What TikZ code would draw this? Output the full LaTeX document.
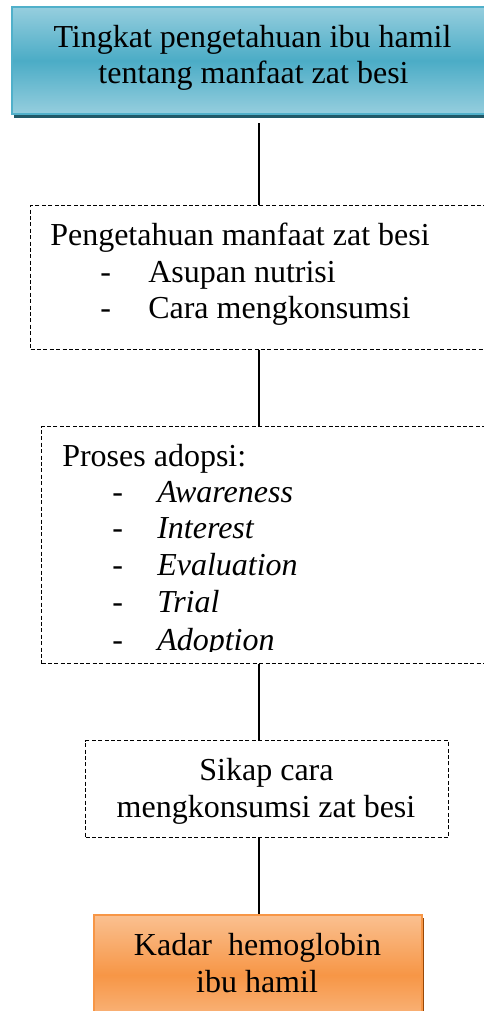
\documentclass[tikz,border=0pt]{standalone}
\usepackage{fontspec}
\setmainfont{Liberation Serif}
\definecolor{bluelite}{RGB}{150,206,222}
\definecolor{bluemid}{RGB}{75,172,198}
\definecolor{blueedge}{RGB}{80,176,202}
\definecolor{blueshadow}{RGB}{33,89,104}
\definecolor{orlite}{RGB}{250,192,144}
\definecolor{ormid}{RGB}{247,150,70}
\definecolor{oredge}{RGB}{247,150,70}
\definecolor{orshadow}{RGB}{152,72,7}
\begin{document}
\begin{tikzpicture}[x=0.75pt,y=-0.75pt,
  txt/.style={inner sep=0pt,font=\fontsize{24pt}{26.5pt}\selectfont},
  dbox/.style={draw=black,line width=0.8pt,dash pattern=on 3pt off 1.8pt,inner sep=0pt},
  conn/.style={draw=black,line width=1.2pt}]
\useasboundingbox (0,0) rectangle (483,1011);
% top box
\fill[blueshadow] (14,9) rectangle (498,118);
\node[draw=blueedge,line width=1.6pt,top color=bluelite,bottom color=bluelite,middle color=bluemid,
  minimum width=482*0.75pt,minimum height=107*0.75pt,inner sep=0pt,anchor=north west] (b1) at (11,6) {};
\node[txt,anchor=base] (t1a) at (252.5,47) {Tingkat pengetahuan ibu hamil};
\node[txt,anchor=base] (t1b) at (253.5,83) {tentang manfaat zat besi};
% box 2
\node[dbox,minimum width=470*0.75pt,minimum height=144*0.75pt,anchor=north west] (b2) at (30,205) {};
\node[txt,anchor=base west] (t2a) at (50,245) {Pengetahuan manfaat zat besi};
\node[txt,anchor=base west] (d2a) at (100,282) {-};
\node[txt,anchor=base west] (t2b) at (148,282) {Asupan nutrisi};
\node[txt,anchor=base west] (d2b) at (100,318) {-};
\node[txt,anchor=base west] (t2c) at (148,318) {Cara mengkonsumsi};
% box 3
\node[dbox,minimum width=459*0.75pt,minimum height=237*0.75pt,anchor=north west] (b3) at (41,426) {};
\node[txt,anchor=base west] (t3a) at (62,466) {Proses adopsi:};
\node[txt,anchor=base west] (d3a) at (112,502) {-};
\node[txt,anchor=base west] (t3b) at (157,502) {\itshape Awareness};
\node[txt,anchor=base west] (d3b) at (112,538) {-};
\node[txt,anchor=base west] (t3c) at (157,538) {\itshape Interest};
\node[txt,anchor=base west] (d3c) at (112,575) {-};
\node[txt,anchor=base west] (t3d) at (157,575) {\itshape Evaluation};
\node[txt,anchor=base west] (d3d) at (112,612) {-};
\node[txt,anchor=base west] (t3e) at (157,612) {\itshape Trial};
\node[txt,anchor=base west] (d3e) at (112,650) {-};
\begin{scope}
\clip (0,426) rectangle (483,651.5);
\node[txt,anchor=base west] (t3f) at (157,650) {\itshape Adoption};
\end{scope}
% box 4
\node[dbox,minimum width=363*0.75pt,minimum height=97*0.75pt,anchor=north west] (b4) at (85,740) {};
\node[txt,anchor=base] (t4a) at (266.5,780) {Sikap cara};
\node[txt,anchor=base] (t4b) at (266,817) {mengkonsumsi zat besi};
% box 5
\fill[orshadow] (95,918) rectangle (424,1040);
\node[draw=oredge,line width=1.6pt,top color=orlite,bottom color=orlite,middle color=ormid,
  minimum width=328*0.75pt,minimum height=120*0.75pt,inner sep=0pt,anchor=north west] (b5) at (93,914) {};
\node[txt,anchor=base] (t5a) at (257.5,955) {Kadar\ \ hemoglobin};
\node[txt,anchor=base] (t5b) at (257,992) {ibu hamil};
% connectors
\coordinate (lx) at (259,0);
\coordinate (c1) at (259,123);
\draw[conn] (c1) -- (lx |- b2.north);
\draw[conn] (lx |- b2.south) -- (lx |- b3.north);
\draw[conn] (lx |- b3.south) -- (lx |- b4.north);
\draw[conn] (lx |- b4.south) -- (lx |- b5.north);
\end{tikzpicture}
\end{document}
